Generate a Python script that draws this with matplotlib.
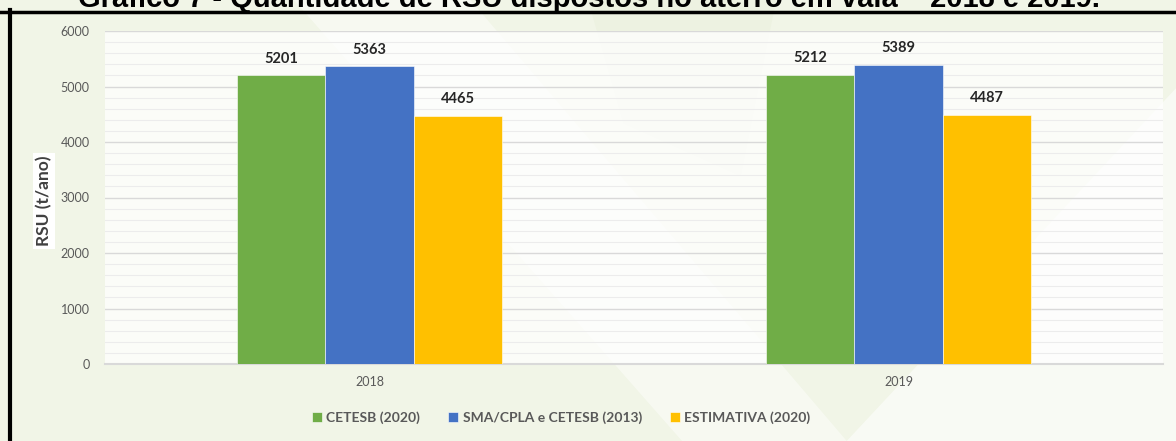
import matplotlib.pyplot as plt
from matplotlib.patches import Polygon
from matplotlib.ticker import MultipleLocator
import numpy as np

years = ['2018', '2019']
series = ['CETESB (2020)', 'SMA/CPLA e CETESB (2013)', 'ESTIMATIVA (2020)']
values = {
    'CETESB (2020)': [5201, 5212],
    'SMA/CPLA e CETESB (2013)': [5363, 5389],
    'ESTIMATIVA (2020)': [4465, 4487],
}
colors = ['#70ad47', '#4472c4', '#ffc000']

plt.rcParams['font.family'] = ['Lato', 'DejaVu Sans']

fig = plt.figure(figsize=(11.76, 4.41), dpi=100)
fig.patch.set_facecolor('#f1f5e7')

# faint leaf watermark behind the chart
bg = fig.add_axes([0, 0, 1, 1], zorder=-5)
bg.set_xlim(0, 1)
bg.set_ylim(0, 1)
bg.axis('off')
for pts, col, a in [
    ([(0.25, 1.0), (0.58, 0.0), (0.72, 0.0), (0.40, 1.0)], '#ffffff', 0.45),
    ([(0.50, 1.0), (0.66, 1.0), (0.63, 0.60), (0.53, 0.72)], '#e6edd6', 0.35),
    ([(0.72, 0.0), (1.0, 0.80), (1.0, 0.0)], '#ffffff', 0.55),
]:
    bg.add_patch(Polygon(pts, closed=True, facecolor=col, edgecolor='none', alpha=a))

ax = fig.add_axes([105 / 1176, 1 - 364 / 441, 1058 / 1176, 333 / 441])
ax.set_facecolor((1, 1, 1, 0.75))

x = np.arange(len(years))
width = 0.167
for i, name in enumerate(series):
    bars = ax.bar(x + (i - 1) * width, values[name], width, color=colors[i],
                  edgecolor='white', linewidth=0.4, label=name, zorder=3)
    for rect, v in zip(bars, values[name]):
        ax.annotate(str(v), (rect.get_x() + rect.get_width() / 2, v),
                    xytext=(0, 7), textcoords='offset points',
                    ha='center', va='bottom', fontsize=10.5,
                    fontweight='bold', color='#262626')

ax.set_xlim(-0.5, 1.5)
ax.set_ylim(0, 6000)
ax.yaxis.set_major_locator(MultipleLocator(1000))
ax.yaxis.set_minor_locator(MultipleLocator(200))
ax.grid(which='major', axis='y', color='#d9d9d9', linewidth=1.0, zorder=0)
ax.grid(which='minor', axis='y', color='#ececec', linewidth=0.8, zorder=0)
ax.set_xticks(x)
ax.set_xticklabels(years)
for s in ['top', 'right', 'left']:
    ax.spines[s].set_visible(False)
ax.spines['bottom'].set_color('#d9d9d9')
ax.spines['bottom'].set_linewidth(1.5)
ax.tick_params(axis='both', which='both', length=0, labelsize=9,
               labelcolor='#595959')
ax.tick_params(axis='y', pad=11)
ax.tick_params(axis='x', pad=9)

ax.set_ylabel('RSU (t/ano)', fontsize=12.5, fontweight='bold', color='#404040',
              bbox=dict(facecolor='white', edgecolor='none', pad=2))
ax.yaxis.set_label_coords(-0.050, 0.49)

leg = fig.legend(loc='center', bbox_to_anchor=(561 / 1176, 1 - 418 / 441),
                 ncol=3, frameon=False, handlelength=0.75, handleheight=0.75,
                 handletextpad=0.3, columnspacing=2.0,
                 prop={'size': 10, 'weight': 'bold'})
for t in leg.get_texts():
    t.set_color('#595959')

# title strip and frame lines
fig.text(589 / 1176, 1 - 7 / 441,
         'Gráfico 7 - Quantidade de RSU dispostos no aterro em vala – 2018 e 2019.',
         ha='center', va='baseline', fontsize=21, fontweight='bold',
         family=['Liberation Sans', 'DejaVu Sans'], color='black')
fig.add_artist(plt.Line2D([0, 1], [1 - 11.5 / 441] * 2, color='black',
                          linewidth=2.5, transform=fig.transFigure))
fig.add_artist(plt.Line2D([9.5 / 1176] * 2, [0, 1 - 10 / 441], color='black',
                          linewidth=3, transform=fig.transFigure))

fig.savefig('out.png', dpi=100, facecolor=fig.get_facecolor())
